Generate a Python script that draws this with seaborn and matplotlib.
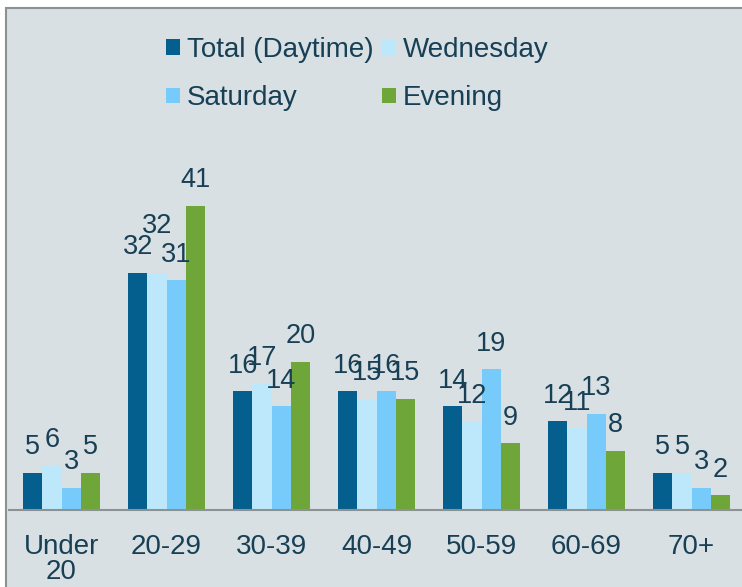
import matplotlib
matplotlib.use("Agg")
import matplotlib.pyplot as plt
from matplotlib.patches import Rectangle
import seaborn as sns
import pandas as pd

# ---------------------------------------------------------------------------
# DATA
# ---------------------------------------------------------------------------
age_groups = ["Under\n20", "20-29", "30-39", "40-49", "50-59", "60-69", "70+"]
series_names = ["Total (Daytime)", "Wednesday", "Saturday", "Evening"]
total_daytime = [5, 32, 16, 16, 14, 12, 5]
wednesday = [6, 32, 17, 15, 12, 11, 5]
saturday = [3, 31, 14, 16, 19, 13, 3]
evening = [5, 41, 20, 15, 9, 8, 2]

colors = ["#045e8e", "#bde7fb", "#76cbfb", "#6fa63a"]
text_color = "#173f55"
panel_color = "#d8e0e3"
axis_gray = "#8c9194"

df = pd.DataFrame({
    "age": age_groups * 4,
    "series": [s for s in series_names for _ in age_groups],
    "pct": total_daytime + wednesday + saturday + evening,
})

sns.set_style("white")
plt.rcParams["font.family"] = ["Liberation Sans", "DejaVu Sans"]

W, H = 742, 587
fig = plt.figure(figsize=(W / 100, H / 100), dpi=100)
fig.patch.set_facecolor("white")

# gray panel with border behind the chart
fig.add_artist(Rectangle((6 / W, -0.01), 1.0, 1 - 8 / H + 0.01,
                         transform=fig.transFigure, facecolor=panel_color,
                         edgecolor=axis_gray, linewidth=1.5, zorder=0))

ax = fig.add_axes([9 / W, (H - 510) / H, 733 / W, 502 / H])
ax.set_facecolor("none")

sns.barplot(data=df, x="age", y="pct", hue="series", hue_order=series_names,
            order=age_groups, palette=colors, width=0.73, saturation=1,
            linewidth=0, edgecolor="none", ax=ax, legend=True)

label_pad = 9
for s_idx, cont in enumerate(ax.containers):
    anns = ax.bar_label(cont, fmt="%d", padding=label_pad, fontsize=19.5,
                        color=text_color)
    # the two "32" labels collide, lift the Wednesday one like the original
    if s_idx == 1:
        anns[1].xyann = (0, label_pad + 15)

ax.set_ylim(0, 67.7)
ax.set_xlim(-0.5, 6.48)
ax.set_xlabel("")
ax.set_ylabel("")
ax.set_yticks([])

for side in ["top", "right", "left"]:
    ax.spines[side].set_visible(False)
ax.spines["bottom"].set_color(axis_gray)
ax.spines["bottom"].set_linewidth(1.5)

ax.set_xticks(range(len(age_groups)))
ax.set_xticklabels(age_groups, fontsize=20, color=text_color, linespacing=0.95)
ax.set_xticks([i + 0.5 for i in range(len(age_groups) - 1)], minor=True)
ax.tick_params(axis="x", which="major", length=0, pad=17)
ax.tick_params(axis="x", which="minor", length=6, width=1.5, color=axis_gray,
               direction="out")

# legend: two rows, Total/Wednesday on top, Saturday/Evening below
handles, labels = ax.get_legend_handles_labels()
order = [0, 2, 1, 3]
ax.get_legend().remove()
leg = ax.legend([handles[i] for i in order], [labels[i] for i in order],
                ncol=2, loc="upper left", bbox_to_anchor=(155 / W, 1 - 26 / H),
                bbox_transform=fig.transFigure,
                frameon=False, fontsize=20, handlelength=0.5, handleheight=0.5,
                handletextpad=0.25, columnspacing=0.3, labelspacing=0.8,
                borderaxespad=0)
for t in leg.get_texts():
    t.set_color(text_color)

fig.savefig("out.png", dpi=100, facecolor=fig.get_facecolor())
